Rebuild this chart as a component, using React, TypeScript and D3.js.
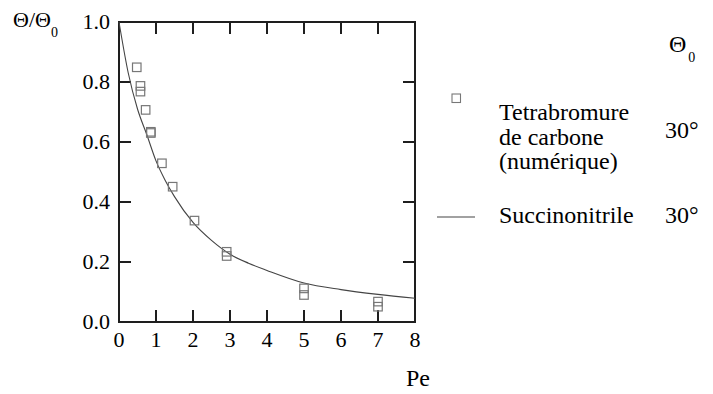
import React from 'react';
import * as d3 from 'd3';

// numerical results (Tetrabromure de carbone)
const peNum = [0.48, 0.58, 0.58, 0.72, 0.86, 0.86, 1.16, 1.45, 2.04, 2.91, 2.91, 5.0, 5.0, 7.0, 7.0];
const thetaNum = [0.849, 0.787, 0.768, 0.707, 0.634, 0.63, 0.529, 0.451, 0.338, 0.234, 0.22, 0.112, 0.09, 0.068, 0.051];

// Succinonitrile curve
const peLine = [0, 0.25, 0.5, 0.75, 1, 1.25, 1.5, 2, 2.5, 3, 3.5, 4, 5, 6, 7, 8];
const thetaLine = [1.0, 0.83, 0.71, 0.625, 0.537, 0.472, 0.418, 0.332, 0.272, 0.226, 0.196, 0.172, 0.13, 0.108, 0.092, 0.079];

const xTicks = [0, 1, 2, 3, 4, 5, 6, 7, 8];
const yTicks = [0, 0.2, 0.4, 0.6, 0.8, 1.0];

const legendNames = ['Tetrabromure', 'de carbone', '(numérique)'];
const legendLine = 'Succinonitrile';
const legendTheta0 = ['30°', '30°'];

const W = 713;
const H = 394;
const left = 119, right = 415, top = 22, bottom = 322;
const tickLen = 12;
const sq = 8.5;
const axisColor = '#1e1e1e';
const SERIF = 'Liberation Serif';

const x = d3.scaleLinear().domain([0, 8]).range([left, right]);
const y = d3.scaleLinear().domain([0, 1]).range([bottom, top]);

const lineGen = d3.line<number>()
  .x((_, i) => x(peLine[i]))
  .y(d => y(d))
  .curve(d3.curveMonotoneX);

const T = (props: any) => (
  <text fontFamily={SERIF} {...props} style={{ fontFamily: `'${SERIF}'`, fontSize: props.size }}>
    {props.children}
  </text>
);

export default function App() {
  return (
    <svg width={W} height={H} fontFamily={SERIF} style={{ position: 'absolute', left: 0, top: 0, fontFamily: `'${SERIF}'` }}>
      <style>{`text, tspan { font-family: '${SERIF}', 'Times New Roman', Times; }`}</style>
      {/* frame + ticks */}
      <rect x={left} y={top} width={right - left} height={bottom - top} fill="none" stroke={axisColor} strokeWidth={2} />
      <g stroke={axisColor} strokeWidth={2}>
        {xTicks.slice(1, -1).map(t => (
          <g key={'x' + t}>
            <line x1={x(t)} x2={x(t)} y1={bottom} y2={bottom - tickLen} />
            <line x1={x(t)} x2={x(t)} y1={top} y2={top + tickLen} />
          </g>
        ))}
        {yTicks.slice(1, -1).map(t => (
          <g key={'y' + t}>
            <line x1={left} x2={left + tickLen} y1={y(t)} y2={y(t)} />
            <line x1={right} x2={right - tickLen} y1={y(t)} y2={y(t)} />
          </g>
        ))}
      </g>

      {xTicks.map(t => (
        <T key={'xl' + t} x={x(t)} y={347} textAnchor="middle" size={22}>{t}</T>
      ))}
      {yTicks.map(t => (
        <T key={'yl' + t} x={110} y={y(t) + 7} textAnchor="end" size={22}>{t.toFixed(1)}</T>
      ))}

      {/* axis titles */}
      <T x={13} y={27} size={22}>
        Θ/Θ<tspan dy={10} style={{ fontSize: 14 }}>0</tspan>
      </T>
      <T x={418} y={386} textAnchor="middle" size={24}>Pe</T>

      {/* curve */}
      <path d={lineGen(thetaLine) || ''} fill="none" stroke="#444" strokeWidth={1.1} />

      {/* markers */}
      {peNum.map((p, i) => (
        <rect key={'m' + i} x={x(p) - sq / 2} y={y(thetaNum[i]) - sq / 2} width={sq} height={sq}
          fill="none" stroke="#777" strokeWidth={1.2} />
      ))}

      {/* legend */}
      <T x={669} y={52} size={24}>
        Θ<tspan dx={2} dy={10} style={{ fontSize: 14 }}>0</tspan>
      </T>
      <rect x={452} y={94} width={sq} height={sq} fill="none" stroke="#777" strokeWidth={1.1} />
      {legendNames.map((s, i) => (
        <T key={s} x={499} y={120 + i * 24.5} size={24}>{s}</T>
      ))}
      <T x={665} y={138} size={24}>{legendTheta0[0]}</T>
      <line x1={437} x2={475} y1={217} y2={217} stroke="#444" strokeWidth={1.1} />
      <T x={499} y={223} size={24}>{legendLine}</T>
      <T x={665} y={223} size={24}>{legendTheta0[1]}</T>
    </svg>
  );
}
